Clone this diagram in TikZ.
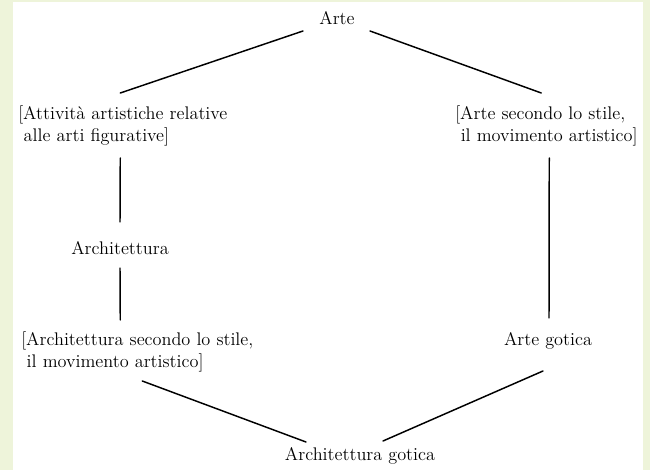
\documentclass[tikz,border=0pt]{standalone}
\usetikzlibrary{calc}
\definecolor{panelbg}{RGB}{238,244,218}
\begin{document}
\begin{tikzpicture}[x=0.75pt,y=-0.75pt,
  lbl/.style={inner sep=0pt, font=\fontsize{13.7}{17}\selectfont},
  blk/.style={lbl, align=left, anchor=west},
  link/.style={line width=1.1pt, line cap=round}]
\useasboundingbox (0,0) rectangle (650,470);
% page background and white panel
\fill[panelbg] (0,0) rectangle (650,470);
\fill[white] (13,2) rectangle (643,470);
% labels
\node[lbl] (arte) at (337,18) {Arte};
\node[blk, text width=160.5pt] (att) at (18,126)
  {[Attività artistiche relative\\\hspace*{0.3em}alle arti figurative]};
\node[blk, text width=142.5pt] (stile) at (455,126)
  {[Arte secondo lo stile,\\\hspace*{0.3em}il movimento artistico]};
\node[lbl] (arch) at (120,248) {Architettura};
\node[blk, text width=187.5pt] (archstile) at (21,352)
  {[Architettura secondo lo stile,\\\hspace*{0.3em}il movimento artistico]};
\node[lbl] (gotica) at (548,341) {Arte gotica};
\node[lbl] (archgot) at (360,456) {Architettura gotica};
% connectors
\draw[link] ($(arte.center)+(-34,13)$) -- ($(att.center)+(-5,-33)$);
\draw[link] ($(arte.center)+(33,13)$) -- ($(stile.center)+(-9,-33)$);
\draw[link] ($(att.center)+(-5,32)$) -- ($(arch.center)+(0,-26)$);
\draw[link] ($(arch.center)+(0,20)$) -- ($(archstile.center)+(-26,-32)$);
\draw[link] ($(stile.center)+(-1,32)$) -- ($(gotica.center)+(1,-23)$);
\draw[link] ($(archstile.center)+(-4,29)$) -- ($(archgot.center)+(-54,-14)$);
\draw[link] ($(gotica.center)+(-5,30)$) -- ($(archgot.center)+(23,-15)$);
\end{tikzpicture}
\end{document}
